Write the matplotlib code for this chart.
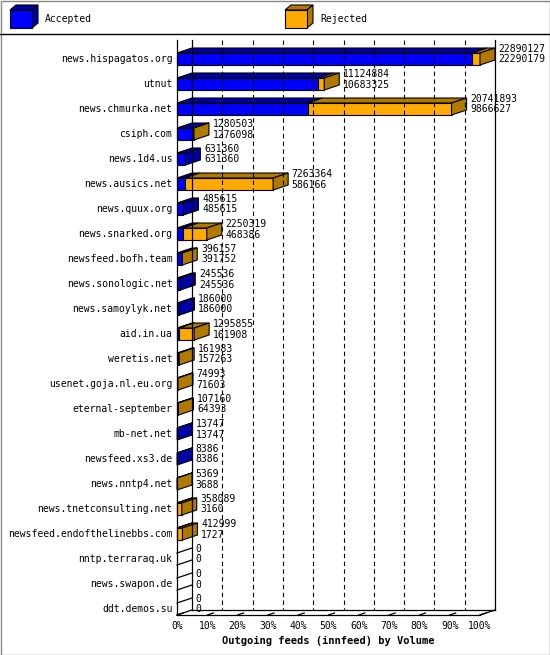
import matplotlib
matplotlib.use("Agg")
import matplotlib.pyplot as plt
from matplotlib.patches import Polygon, Rectangle

hosts = ["news.hispagatos.org","utnut","news.chmurka.net","csiph.com","news.1d4.us",
         "news.ausics.net","news.quux.org","news.snarked.org","newsfeed.bofh.team",
         "news.sonologic.net","news.samoylyk.net","aid.in.ua","weretis.net",
         "usenet.goja.nl.eu.org","eternal-september","mb-net.net","newsfeed.xs3.de",
         "news.nntp4.net","news.tnetconsulting.net","newsfeed.endofthelinebbs.com",
         "nntp.terraraq.uk","news.swapon.de","ddt.demos.su"]
offered = [22890127,11124884,20741893,1280503,631360,7263364,485615,2250319,396157,
           245536,186000,1295855,161983,74993,107160,13747,8386,5369,358089,412999,0,0,0]
accepted = [22290179,10683325,9866627,1276098,631360,586166,485615,468386,391752,
            245536,186000,161908,157263,71603,64393,13747,8386,3688,3160,1727,0,0,0]
ticks = list(range(0, 101, 10))

W, H = 550, 655
fig = plt.figure(figsize=(W/100, H/100), dpi=100)
fnt = dict(family="DejaVu Sans Mono", fontsize=7)

x0p, x1p, ytp, ybp = 177, 480, 40, 615
ax = fig.add_axes([x0p/W, 1-ybp/H, (x1p-x0p)/W, (ybp-ytp)/H])
n = len(hosts)
rowpx = 25.0
c0 = 59
ax.set_xlim(0, 100)
ax.set_ylim((ybp-c0)/rowpx, (ytp-c0)/rowpx)
ax.axis("off")
DX = 15/(x1p-x0p)*100
DY = -5/rowpx
BH = 12/rowpx
ytop, ybot = (ytp-c0)/rowpx, (ybp-c0)/rowpx

BLUE, DBLUE = "#0000FF", "#0000AA"
ORG, DORG = "#FFAA00", "#B07A00"

def poly(pts, fc):
    ax.add_patch(Polygon(pts, closed=True, fc=fc, ec="black", lw=0.8, clip_on=False))

kw = dict(color="black", lw=0.9, clip_on=False)
ax.plot([0, 0], [ytop, ybot], **kw)
ax.plot([DX, DX], [ytop, ybot+DY], **kw)
ax.plot([100+DX, 100+DX], [ytop, ybot+DY], **kw)
ax.plot([0, 100], [ybot, ybot], **kw)
ax.plot([DX, 100+DX], [ybot+DY, ybot+DY], **kw)
ax.plot([100, 100+DX], [ybot, ybot+DY], **kw)
for t in ticks[1:-1]:
    ax.plot([t+DX, t+DX], [ytop, ybot+DY], color="black", lw=0.8, ls=(0, (4, 3)), clip_on=False)
for t in ticks:
    ax.plot([t, t+DX*0.4], [ybot, ybot+DY*0.4], **kw)
    ax.text(t, ybot+0.45, f"{t}%", ha="center", va="center", **fnt)

mx = max(offered)
for i in range(n):
    tot = offered[i]/mx*100
    acc = accepted[i]/mx*100
    yb, yt = i+BH/2, i-BH/2
    if tot == 0:
        ax.plot([0, DX], [yt, yt+DY], **kw)
        ax.plot([0, DX], [yb, yb+DY], **kw)
    else:
        for a, b, fc, dc in [(0, acc, BLUE, DBLUE), (acc, tot, ORG, DORG)]:
            if b > a:
                poly([(a, yt), (b, yt), (b+DX, yt+DY), (a+DX, yt+DY)], dc)
                ax.add_patch(Rectangle((a, yt), b-a, BH, fc=fc, ec="black", lw=0.8, clip_on=False))
        sc = DORG if tot > acc else DBLUE
        poly([(tot, yt), (tot+DX, yt+DY), (tot+DX, yb+DY), (tot, yb)], sc)
    ax.text(tot+DX+1.2, i-0.4, str(offered[i]), ha="left", va="center", **fnt)
    ax.text(tot+DX+1.2, i+0.02, str(accepted[i]), ha="left", va="center", **fnt)
    ax.text(-1.5, i, hosts[i], ha="right", va="center", **fnt)

fig.text((x0p+x1p)/2/W, 1-641/H, "Outgoing feeds (innfeed) by Volume", ha="center",
         va="center", fontweight="bold", family="DejaVu Sans Mono", fontsize=7.5)

lg = fig.add_axes([0, 0, 1, 1], zorder=-1)
lg.set_xlim(0, W); lg.set_ylim(H, 0); lg.axis("off")
lg.add_patch(Rectangle((0.5, 0.5), W-1, H-1, fc="none", ec="#888888", lw=1))
lg.plot([0, W], [34, 34], color="black", lw=1)
for (lx, fc, dc, lab) in [(10, BLUE, DBLUE, "Accepted"), (285, ORG, DORG, "Rejected")]:
    lg.add_patch(Polygon([(lx, 10), (lx+22, 10), (lx+28, 5), (lx+6, 5)], fc=dc, ec="black", lw=0.8))
    lg.add_patch(Polygon([(lx+22, 10), (lx+28, 5), (lx+28, 23), (lx+22, 28)], fc=dc, ec="black", lw=0.8))
    lg.add_patch(Rectangle((lx, 10), 22, 18, fc=fc, ec="black", lw=0.8))
    lg.text(lx+35, 19, lab, ha="left", va="center", **fnt)

fig.savefig("out.png", dpi=100)
